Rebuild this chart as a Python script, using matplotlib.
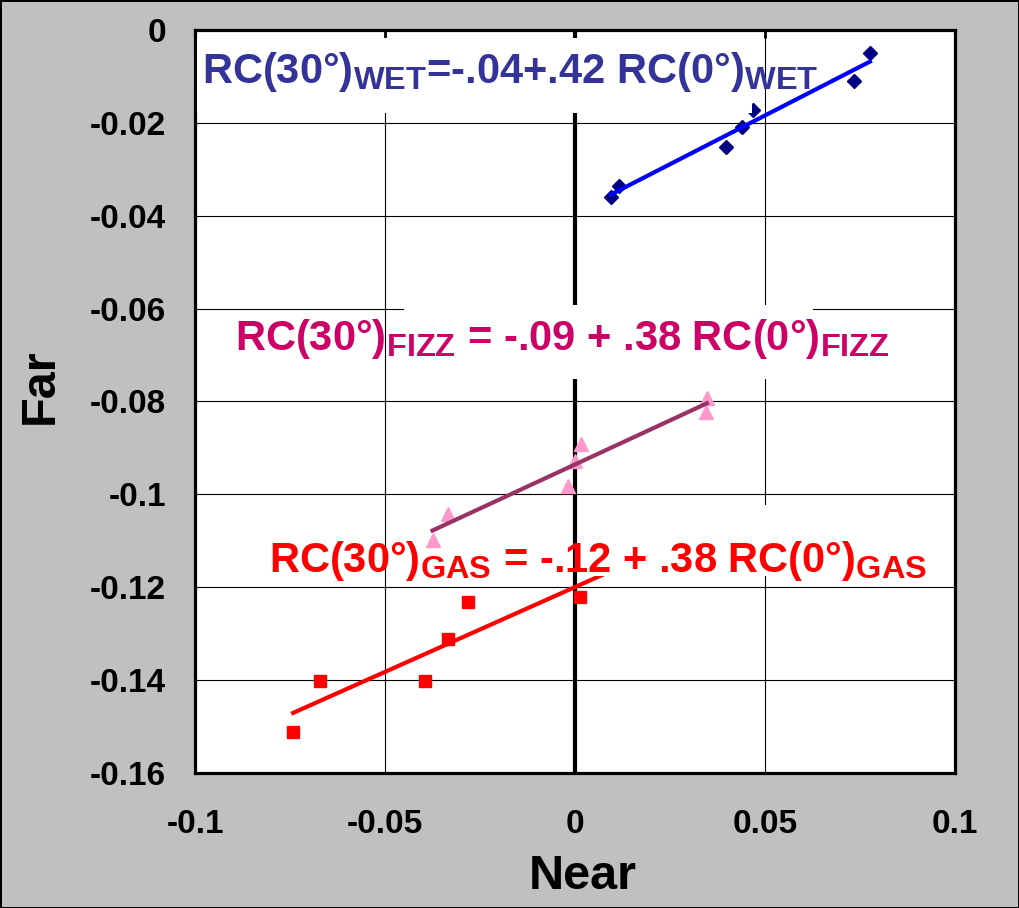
import numpy as np
import matplotlib.pyplot as plt
import matplotlib._mathtext as mathtext_internal
from matplotlib.patches import Rectangle

plt.rcParams['font.family'] = ['Liberation Sans', 'DejaVu Sans']
plt.rcParams['font.weight'] = 'bold'
plt.rcParams['mathtext.fontset'] = 'custom'
plt.rcParams['mathtext.rm'] = 'Liberation Sans:bold'
plt.rcParams['mathtext.bf'] = 'Liberation Sans:bold'
plt.rcParams['mathtext.it'] = 'Liberation Sans:bold'
# Excel subscripts are a bit larger than mathtext's default
mathtext_internal.SHRINK_FACTOR = 0.78

# data
wet_near = [0.0776, 0.0735, 0.0469, 0.0440, 0.0398, 0.0117, 0.0095]
wet_far = [-0.0050, -0.0109, -0.0172, -0.0208, -0.0251, -0.0337, -0.0359]

fizz_near = [0.0347, 0.0346, 0.0016, 0.0001, -0.0019, -0.0333, -0.0375]
fizz_far = [-0.0793, -0.0822, -0.0891, -0.0928, -0.0982, -0.1042, -0.1098]

gas_near = [-0.0282, 0.0012, -0.0335, -0.0671, -0.0394, -0.0742]
gas_far = [-0.1231, -0.1222, -0.1311, -0.1402, -0.1402, -0.1511]
gas_line_span = [-0.0742, 0.010]  # trend line runs on under the label box

xticks = [-0.1, -0.05, 0, 0.05, 0.1]
xlabels = ['-0.1', '-0.05', '0', '0.05', '0.1']
yticks = [0, -0.02, -0.04, -0.06, -0.08, -0.1, -0.12, -0.14, -0.16]
ylabels = ['0', '-0.02', '-0.04', '-0.06', '-0.08', '-0.1', '-0.12', '-0.14', '-0.16']

fig = plt.figure(figsize=(10.19, 9.08), dpi=100, facecolor='#c0c0c0',
                 edgecolor='black', linewidth=2)
ax = fig.add_axes([0.1914, 0.1487, 0.7458, 0.8183])
ax.set_xlim(-0.1, 0.1)
ax.set_ylim(-0.16, 0)
for s in ax.spines.values():
    s.set_linewidth(2.3)

ax.set_axisbelow(True)
ax.grid(True, color='black', lw=0.8)
ax.axvline(0, color='black', lw=3, zorder=1.5)

ax.set_xticks(xticks, xlabels, fontsize=24, fontweight='bold')
ax.set_yticks(yticks, ylabels, fontsize=24, fontweight='bold')
ax.tick_params(axis='x', bottom=False, top=True, direction='in',
               length=6, width=2, pad=26)
ax.tick_params(axis='y', left=False, direction='in', pad=21)
ax.set_xlabel('Near', fontsize=35, fontweight='bold', labelpad=10)
ax.set_ylabel('Far', fontsize=35, fontweight='bold', labelpad=19)
ax.xaxis.label.set_x(0.51)
ax.yaxis.label.set_y(0.52)


def trend(xs, ys, span=None):
    k, b = np.polyfit(xs, ys, 1)
    if span is None:
        span = [min(xs), max(xs)]
    span = np.array(span)
    return span, k * span + b


# series
ax.plot(wet_near, wet_far, 'D', color='#000080', ms=7.5, zorder=3)
lx, ly = trend(wet_near, wet_far)
ax.plot(lx, ly, color='#0000ff', lw=3, zorder=3)

ax.plot(fizz_near, fizz_far, '^', color='#ff99cc', ms=10.5, zorder=3)
lx, ly = trend(fizz_near, fizz_far)
ax.plot(lx, ly, color='#993366', lw=3, zorder=3)

ax.plot(gas_near, gas_far, 's', color='#ff0000', ms=8.5, zorder=3)
lx, ly = trend(gas_near, gas_far, gas_line_span)
ax.plot(lx, ly, color='#ff0000', lw=3, zorder=3)

# white label boxes (Excel text boxes)
boxes = [(-0.0995, -0.0178, 0.1460, 0.0161),
         (-0.0449, -0.0752, 0.1075, 0.0160),
         (0.0038, -0.1176, 0.0909, 0.0153)]
for x0, y0, w, h in boxes:
    ax.add_patch(Rectangle((x0, y0), w, h, facecolor='white',
                           edgecolor='none', zorder=4))

ax.text(-0.0982, -0.0114,
        r'$\text{RC(30°)}_\text{WET}\text{=-.04+.42 RC(0°)}_\text{WET}$',
        color='#333399', fontsize=30, va='baseline', zorder=5)
ax.text(-0.0894, -0.0689,
        r'$\text{RC(30°)}_\text{FIZZ}\text{ = -.09 + .38 RC(0°)}_\text{FIZZ}$',
        color='#cc0066', fontsize=30, va='baseline', zorder=5)
ax.text(-0.0805, -0.1167,
        r'$\text{RC(30°)}_\text{GAS}\text{ = -.12 + .38 RC(0°)}_\text{GAS}$',
        color='#ff0000', fontsize=30, va='baseline', zorder=5)

fig.savefig('out.png', dpi=100)
